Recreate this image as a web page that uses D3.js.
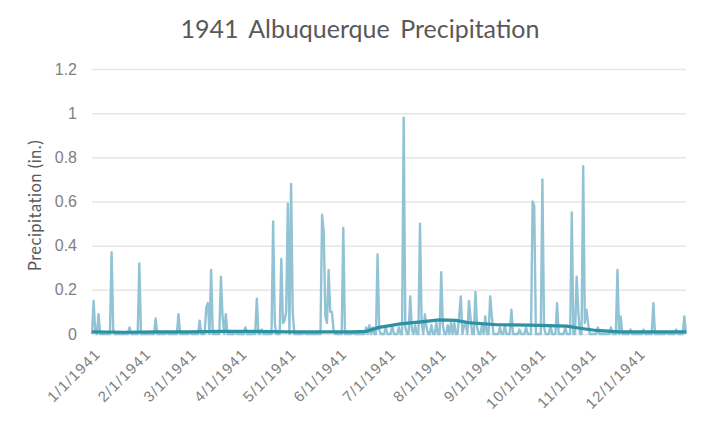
<!DOCTYPE html>
<html>
<head>
<meta charset="utf-8">
<script src="https://cdn.jsdelivr.net/npm/d3@7"></script>
<style>
  body { margin: 0; background: #fff; }
  svg { font-family: Lato, "Open Sans", sans-serif; }
  .grid line { stroke: #e6e6e6; stroke-width: 1.5; }
  .grid path { display: none; }
  .tick text { fill: #808080; }
</style>
</head>
<body>
<svg id="chart" width="720" height="426"></svg>
<script>
/* 1941 daily precipitation, days counted from Jan 1 (day 0); days not listed had none */
var rainDays = [
  1, 2, 4, 12, 13, 23, 29, 39, 46, 53,
  60, 66, 70, 71, 73, 79, 80, 82, 88, 94, 101, 104,
  111, 112, 116, 117, 118, 119, 120, 122, 123, 130,
  141, 142, 143, 144, 145, 146, 147, 148, 154, 160,
  168, 170, 172, 175, 176, 180, 184, 188, 191, 192, 195, 196, 198, 201, 202, 204, 205, 208,
  211, 214, 215, 218, 220, 222, 225, 226, 228, 229, 231, 232, 235, 236, 239, 241,
  244, 245, 250, 253, 257, 262, 266,
  270, 271, 276, 277, 281, 285, 290, 294, 297, 298, 301, 302, 303, 304,
  310, 318, 322, 324, 330, 338, 344, 352, 358, 363];
var rainInches = [
  0.15, 0.01, 0.09, 0.37, 0.02, 0.03, 0.32, 0.07, 0.01, 0.09,
  0.01, 0.06, 0.12, 0.14, 0.29, 0.26, 0.08, 0.09, 0.01, 0.03, 0.16, 0.02,
  0.51, 0.05, 0.34, 0.05, 0.06, 0.1, 0.59, 0.68, 0.1, 0.01,
  0.54, 0.46, 0.08, 0.05, 0.29, 0.1, 0.1, 0.02, 0.48, 0.01,
  0.03, 0.04, 0.03, 0.36, 0.02, 0.03, 0.04, 0.03, 0.98, 0.03, 0.17, 0.02, 0.04, 0.5, 0.05, 0.09, 0.03, 0.04,
  0.05, 0.28, 0.04, 0.04, 0.05, 0.05, 0.08, 0.17, 0.04, 0.05, 0.15, 0.07, 0.19, 0.03, 0.04, 0.08,
  0.17, 0.08, 0.03, 0.04, 0.11, 0.02, 0.03,
  0.6, 0.58, 0.7, 0.03, 0.04, 0.14, 0.03, 0.55, 0.26, 0.1, 0.76, 0.05, 0.11, 0.05,
  0.03, 0.03, 0.29, 0.08, 0.02, 0.02, 0.14, 0.01, 0.02, 0.08];

/* moving average trend */
var trendDays = [0, 20, 40, 60, 80, 100, 120, 140, 160, 168, 176, 189, 203, 213, 223, 232, 248, 268, 291, 299, 309, 323, 364];
var trendInches = [0.01, 0.008, 0.01, 0.01, 0.012, 0.012, 0.01, 0.01, 0.01, 0.012, 0.03, 0.046, 0.056, 0.064, 0.062, 0.05, 0.042, 0.04, 0.036, 0.026, 0.016, 0.01, 0.01];

var monthLabels = ['1/1/1941', '2/1/1941', '3/1/1941', '4/1/1941', '5/1/1941', '6/1/1941',
  '7/1/1941', '8/1/1941', '9/1/1941', '10/1/1941', '11/1/1941', '12/1/1941'];
var monthStartDays = [0, 31, 59, 90, 120, 151, 181, 212, 243, 273, 304, 334];
var yTicks = [0, 0.2, 0.4, 0.6, 0.8, 1, 1.2];

var margin = {top: 69, right: 34, bottom: 92, left: 92};
var svg = d3.select('#chart'),
    width = 720 - margin.left - margin.right,
    height = 426 - margin.top - margin.bottom;

var daily = d3.range(365).map(function(d) { return {day: d, value: 0}; });
rainDays.forEach(function(d, i) { daily[d].value = rainInches[i]; });

var trend = trendDays.map(function(d, i) { return {day: d, value: trendInches[i]}; });

var x = d3.scaleLinear().domain([0, 364]).range([0, width]);
var y = d3.scaleLinear().domain([0, 1.2]).range([height, 0]);

var g = svg.append('g')
    .attr('transform', 'translate(' + margin.left + ',' + margin.top + ')');

g.append('g')
    .attr('class', 'grid')
    .call(d3.axisLeft(y).tickValues(yTicks).tickSize(-width).tickFormat(''));

var yAxis = g.append('g')
    .call(d3.axisLeft(y).tickValues(yTicks).tickSize(0).tickPadding(15).tickFormat(d3.format('')));
yAxis.select('.domain').remove();
yAxis.selectAll('text').style('font-size', '16px');

var xAxis = g.append('g')
    .attr('transform', 'translate(0,' + height + ')')
    .call(d3.axisBottom(x).tickValues(monthStartDays).tickSize(0)
      .tickFormat(function(d, i) { return monthLabels[i]; }));
xAxis.select('.domain').remove();
xAxis.selectAll('text')
    .style('font-size', '15px')
    .style('letter-spacing', '1.2px')
    .style('text-anchor', 'end')
    .attr('dy', 0)
    .attr('y', 0)
    .attr('transform', 'translate(9,21) rotate(-45)');

var line = d3.line()
    .x(function(d) { return x(d.day); })
    .y(function(d) { return y(d.value); });

g.append('path')
    .datum(daily)
    .attr('fill', 'none')
    .attr('stroke', '#92c3d5')
    .attr('stroke-width', 2.4)
    .attr('stroke-linejoin', 'round')
    .attr('d', line);

g.append('path')
    .datum(trend)
    .attr('fill', 'none')
    .attr('stroke', '#2b91a3')
    .attr('stroke-width', 3.2)
    .attr('stroke-linejoin', 'round')
    .attr('d', line);

svg.append('text')
    .attr('x', 360)
    .attr('y', 38)
    .attr('text-anchor', 'middle')
    .style('font-size', '25px')
    .style('word-spacing', '4px')
    .style('fill', '#595959')
    .text('1941 Albuquerque Precipitation');

svg.append('text')
    .attr('transform', 'translate(41,' + (margin.top + height / 2 + 4) + ') rotate(-90)')
    .attr('text-anchor', 'middle')
    .style('font-size', '16.5px')
    .style('letter-spacing', '0.5px')
    .style('fill', '#595959')
    .text('Precipitation (in.)');
</script>
</body>
</html>
